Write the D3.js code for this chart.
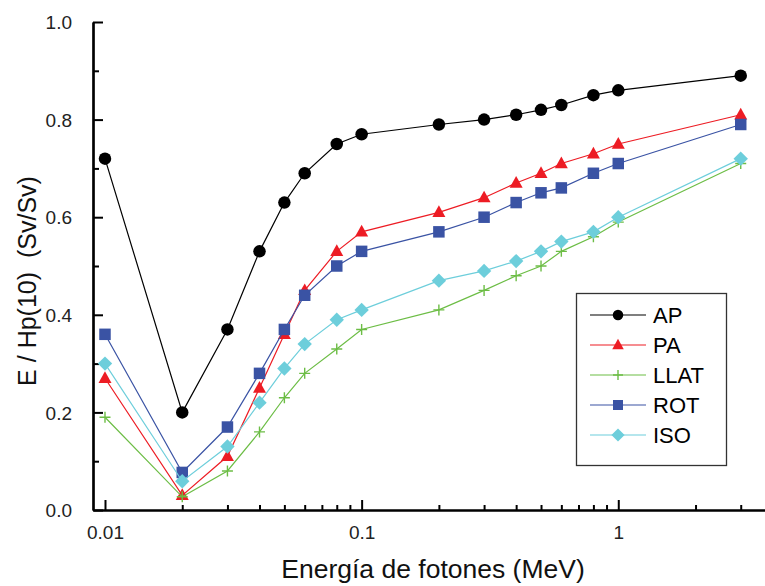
<!DOCTYPE html>
<html><head><meta charset="utf-8">
<script src="https://cdn.jsdelivr.net/npm/d3@7"></script>
<style>
html,body{margin:0;padding:0;background:#fff;}
svg{display:block;font-family:"Liberation Sans",Arial,sans-serif;}
</style></head>
<body><svg id="c" width="765" height="586"></svg>
<script>
const energies = [0.01,0.02,0.03,0.04,0.05,0.06,0.08,0.1,0.2,0.3,0.4,0.5,0.6,0.8,1,3];
const AP   = [0.72,0.20,0.37,0.53,0.63,0.69,0.75,0.77,0.79,0.80,0.81,0.82,0.83,0.85,0.86,0.89];
const PA   = [0.27,0.03,0.11,0.25,0.36,0.45,0.53,0.57,0.61,0.64,0.67,0.69,0.71,0.73,0.75,0.81];
const LLAT = [0.19,0.027,0.08,0.16,0.23,0.28,0.33,0.37,0.41,0.45,0.48,0.50,0.53,0.56,0.59,0.71];
const ROT  = [0.36,0.077,0.17,0.28,0.37,0.44,0.50,0.53,0.57,0.60,0.63,0.65,0.66,0.69,0.71,0.79];
const ISO  = [0.30,0.059,0.13,0.22,0.29,0.34,0.39,0.41,0.47,0.49,0.51,0.53,0.55,0.57,0.60,0.72];
const seriesNames = ["AP","PA","LLAT","ROT","ISO"];
const xTickLabels = ["0.01","0.1","1"];
const xMajor = [0.01,0.1,1];
const xMinor = [0.02,0.03,0.04,0.05,0.06,0.07,0.08,0.09,0.2,0.3,0.4,0.5,0.6,0.7,0.8,0.9,2,3];
const yMajor = [0,0.2,0.4,0.6,0.8,1.0];
const yMinor = [0.1,0.3,0.5,0.7,0.9];
const xTitle = "Energía de fotones (MeV)";
const yTitle = "E / Hp(10)\u00a0\u00a0(Sv/Sv)";

const seriesData = {AP, PA, LLAT, ROT, ISO};
const styles = {
  AP:   {color:"#000000", shape:"circle"},
  PA:   {color:"#ed1c24", shape:"triangle"},
  LLAT: {color:"#6cbd45", shape:"plus"},
  ROT:  {color:"#3a53a4", shape:"square"},
  ISO:  {color:"#6dcedb", shape:"diamond"}
};

const svg = d3.select("#c");
const x = d3.scaleLog().domain([0.00898, 3.73]).range([93, 765]);
const y = d3.scaleLinear().domain([0, 1]).range([510, 22]);

function markerPath(shape, s){
  switch(shape){
    case "circle": return d3.symbol(d3.symbolCircle, Math.PI*s*s/4)();
    case "triangle": {const h=s*0.9; return `M0,${-h*0.6}L${s/2},${h*0.4}L${-s/2},${h*0.4}Z`;}
    case "square": return `M${-s/2},${-s/2}h${s}v${s}h${-s}Z`;
    case "diamond": {const a=s*0.6; return `M0,${-a}L${a},0L0,${a}L${-a},0Z`;}
    case "plus": {const a=s/2; return `M${-a},0H${a}M0,${-a}V${a}`;}
  }
}
function drawMarker(g, shape, color, s){
  const p = g.append("path").attr("d", markerPath(shape, s));
  if(shape==="plus") p.attr("fill","none").attr("stroke",color).attr("stroke-width",1.4);
  else p.attr("fill",color).attr("stroke","none");
  return p;
}
const markerSize = {circle:12.5, triangle:13, square:11.5, diamond:12, plus:11};
const legendSize = {circle:10.5, triangle:11.5, square:10, diamond:11, plus:10};

// axes
const xAxisMajor = d3.axisBottom(x).tickValues(xMajor).tickFormat((d,i)=>xTickLabels[i]).tickSizeInner(-10).tickSizeOuter(0).tickPadding(16);
const xAxisMinor = d3.axisBottom(x).tickValues(xMinor).tickFormat("").tickSizeInner(-5).tickSizeOuter(0);
const yAxisMajor = d3.axisLeft(y).tickValues(yMajor).tickFormat(d3.format(".1f")).tickSizeInner(-10).tickSizeOuter(0).tickPadding(21);
const yAxisMinor = d3.axisLeft(y).tickValues(yMinor).tickFormat("").tickSizeInner(-6).tickSizeOuter(0);

function styleAxis(g){
  g.selectAll("path.domain").attr("stroke","#000").attr("stroke-width",2.2);
  g.selectAll(".tick line").attr("stroke","#000").attr("stroke-width",2);
  g.selectAll(".tick text").attr("fill","#222").style("font-size","19px").style("font-family","'Liberation Sans',Arial,sans-serif");
}
const gx1 = svg.append("g").attr("transform","translate(0,510)").call(xAxisMinor); styleAxis(gx1);
const gx2 = svg.append("g").attr("transform","translate(0,510)").call(xAxisMajor); styleAxis(gx2);
const gy1 = svg.append("g").attr("transform","translate(93,0)").call(yAxisMinor); styleAxis(gy1);
const gy2 = svg.append("g").attr("transform","translate(93,0)").call(yAxisMajor); styleAxis(gy2);
gy2.selectAll(".tick text").attr("dy","0.35em");

// titles
svg.append("text").attr("x",433).attr("y",578).attr("text-anchor","middle")
  .attr("fill","#111").style("font-size","26.5px").text(xTitle);
svg.append("text").attr("transform","translate(36,281) rotate(-90)").attr("text-anchor","middle")
  .attr("fill","#111").style("font-size","25px").text(yTitle);

// series
const line = d3.line().x(d=>x(d[0])).y(d=>y(d[1]));
seriesNames.forEach(name=>{
  const st = styles[name];
  const pts = energies.map((e,i)=>[e, seriesData[name][i]]);
  svg.append("path").attr("d", line(pts)).attr("fill","none").attr("stroke",st.color).attr("stroke-width",1.2);
  const g = svg.append("g");
  pts.forEach(p=>{
    const mg = g.append("g").attr("transform",`translate(${x(p[0])},${y(p[1])})`);
    drawMarker(mg, st.shape, st.color, markerSize[st.shape]);
  });
});

// legend
const lg = svg.append("g");
lg.append("rect").attr("x",576.5).attr("y",293.5).attr("width",150).attr("height",172)
  .attr("fill","#fff").attr("stroke","#333").attr("stroke-width",1.3);
const legY = d3.scalePoint().domain(seriesNames).range([315, 435]);
seriesNames.forEach(name=>{
  const st = styles[name];
  const yy = legY(name);
  lg.append("line").attr("x1",590).attr("x2",646).attr("y1",yy).attr("y2",yy).attr("stroke",st.color).attr("stroke-width",1.2);
  const mg = lg.append("g").attr("transform",`translate(618,${yy})`);
  drawMarker(mg, st.shape, st.color, legendSize[st.shape]);
  lg.append("text").attr("x",653).attr("y",yy).attr("dy","0.36em").attr("fill","#000").style("font-size","22px").text(name);
});
</script></body></html>
